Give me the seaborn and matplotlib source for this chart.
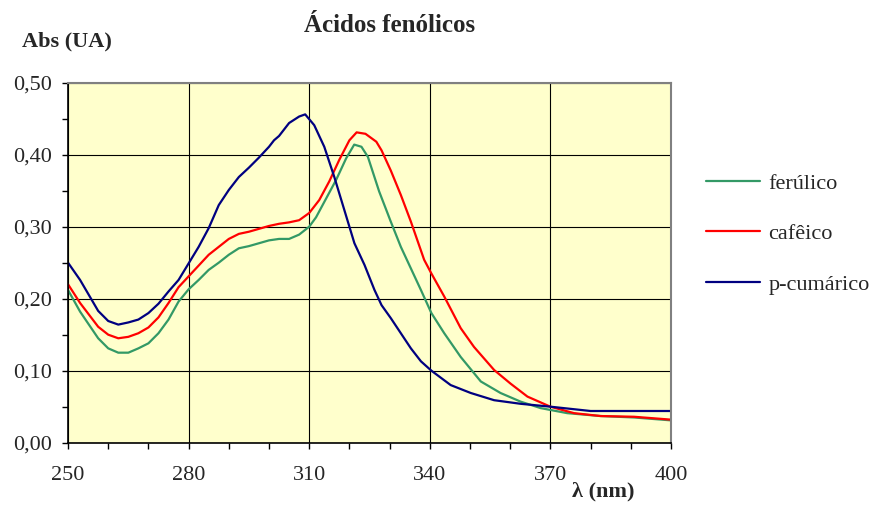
import pandas as pd
import matplotlib
matplotlib.use("Agg")
import matplotlib.pyplot as plt
import seaborn as sns
from matplotlib.ticker import FuncFormatter, MultipleLocator

# Absorbance spectra (x = wavelength in nm)
ferulico_x = [250, 253, 257.5, 260, 262.5, 265, 267.5, 270, 272.5, 275, 277.5, 280, 282.5, 285, 287.5,
              290, 292.5, 295, 297.5, 300, 302.5, 305, 307.5, 310, 311.7, 314.2, 316.7, 319.2, 321.2,
              323, 324.6, 327.4, 330.3, 332.8, 335.3, 337.8, 340.4, 343.6, 347.7, 352.7, 357.6, 362.6,
              367.6, 374.2, 382.5, 390.8, 400]
ferulico_y = [0.212, 0.182, 0.145, 0.131, 0.125, 0.125, 0.131, 0.138, 0.152, 0.171, 0.196, 0.213, 0.226,
              0.240, 0.250, 0.261, 0.270, 0.273, 0.277, 0.281, 0.283, 0.283, 0.289, 0.300, 0.313, 0.339,
              0.365, 0.395, 0.414, 0.411, 0.397, 0.349, 0.307, 0.272, 0.242, 0.212, 0.180, 0.152, 0.119,
              0.085, 0.069, 0.057, 0.048, 0.041, 0.037, 0.035, 0.031]

cafeico_x = [250, 253, 257.5, 260, 262.5, 265, 267.5, 270, 272.5, 275, 277.5, 280, 282.5, 285, 287.5,
             290, 292.5, 295, 297.5, 300, 302.5, 305, 307.5, 310, 312.5, 315, 317.5, 320, 321.8, 324,
             326.7, 328, 330.3, 332.8, 335.3, 338.6, 340.4, 343.6, 347.7, 351, 356, 360.1, 364.3, 370,
             375.9, 382.5, 390.8, 400]
cafeico_y = [0.220, 0.194, 0.161, 0.150, 0.145, 0.147, 0.152, 0.160, 0.174, 0.194, 0.216, 0.231, 0.246,
             0.261, 0.272, 0.283, 0.290, 0.293, 0.297, 0.301, 0.304, 0.306, 0.309, 0.319, 0.337, 0.363,
             0.393, 0.420, 0.431, 0.429, 0.418, 0.406, 0.378, 0.344, 0.307, 0.254, 0.235, 0.203, 0.159,
             0.133, 0.101, 0.082, 0.064, 0.050, 0.041, 0.037, 0.036, 0.032]

cumarico_x = [250, 253, 257.5, 260, 262.5, 265, 267.5, 270, 272.5, 275, 277.5, 280, 282.5, 285, 287.5,
              290, 292.5, 295, 297.5, 300, 301.25, 302.5, 305, 307.5, 309, 311.25, 313.75, 316.25,
              318.75, 321.25, 323.75, 326.25, 328, 330.3, 332.8, 335.3, 337.8, 340.4, 345.2, 350.2,
              356, 362.6, 370, 380, 400]
cumarico_y = [0.250, 0.226, 0.183, 0.169, 0.164, 0.167, 0.171, 0.180, 0.193, 0.210, 0.226, 0.249, 0.272,
              0.298, 0.330, 0.351, 0.369, 0.382, 0.396, 0.411, 0.420, 0.426, 0.444, 0.453, 0.456, 0.441,
              0.411, 0.369, 0.323, 0.277, 0.247, 0.212, 0.191, 0.173, 0.152, 0.131, 0.113, 0.100, 0.080,
              0.069, 0.059, 0.054, 0.050, 0.044, 0.044]

series = ["ferúlico", "cafêico", "p-cumárico"]
colors = ["#339966", "#FF0000", "#000080"]
x_ticks = [250, 280, 310, 340, 370, 400]

df = pd.concat([
    pd.DataFrame({"nm": ferulico_x, "abs": ferulico_y, "acido": series[0]}),
    pd.DataFrame({"nm": cafeico_x, "abs": cafeico_y, "acido": series[1]}),
    pd.DataFrame({"nm": cumarico_x, "abs": cumarico_y, "acido": series[2]}),
])

sns.set_style("ticks")
plt.rcParams["font.family"] = ["Liberation Serif", "DejaVu Serif"]

fig = plt.figure(figsize=(8.7, 5.12), dpi=100)
ax = fig.add_axes([0.0782, 0.1354, 0.6930, 0.7031])
ax.set_facecolor("#FFFFCC")

sns.lineplot(data=df, x="nm", y="abs", hue="acido", hue_order=series,
             palette=colors, linewidth=1.6, sort=False, ax=ax)

ax.set_xlim(250, 400)
ax.set_ylim(0, 0.5)
ax.set_xticks(x_ticks)
ax.xaxis.set_minor_locator(MultipleLocator(10))
ax.yaxis.set_major_locator(MultipleLocator(0.1))
ax.yaxis.set_minor_locator(MultipleLocator(0.05))
ax.yaxis.set_major_formatter(FuncFormatter(lambda v, p: f"{v:.2f}".replace(".", ",")))
ax.grid(True, which="major", color="black", linewidth=0.8)
ax.tick_params(which="both", direction="out", color="black", labelsize=16, length=4.5, width=1)
ax.tick_params(axis="x", which="major", pad=12)
ax.tick_params(axis="y", which="major", pad=7)
for s in ["top", "right"]:
    ax.spines[s].set_visible(True)
    ax.spines[s].set_color("#808080")
    ax.spines[s].set_linewidth(1.5)
for s in ["left", "bottom"]:
    ax.spines[s].set_color("black")
    ax.spines[s].set_linewidth(1.2)

ax.set_xlabel("")
ax.set_ylabel("")
fig.text(0.448, 0.951, "Ácidos fenólicos", ha="center", va="center", fontsize=18, fontweight="bold")
fig.text(0.025, 0.918, "Abs (UA)", ha="left", va="center", fontsize=16, fontweight="bold")
fig.text(0.693, 0.041, "λ (nm)", ha="center", va="center", fontsize=16, fontweight="bold")

handles, labels = ax.get_legend_handles_labels()
ax.legend(handles, labels, loc="center left", bbox_to_anchor=(0.801, 0.543),
          bbox_transform=fig.transFigure, frameon=False, fontsize=16, borderaxespad=0,
          handlelength=2.45, handletextpad=0.36, labelspacing=1.35)

fig.savefig("out.png", dpi=100)
